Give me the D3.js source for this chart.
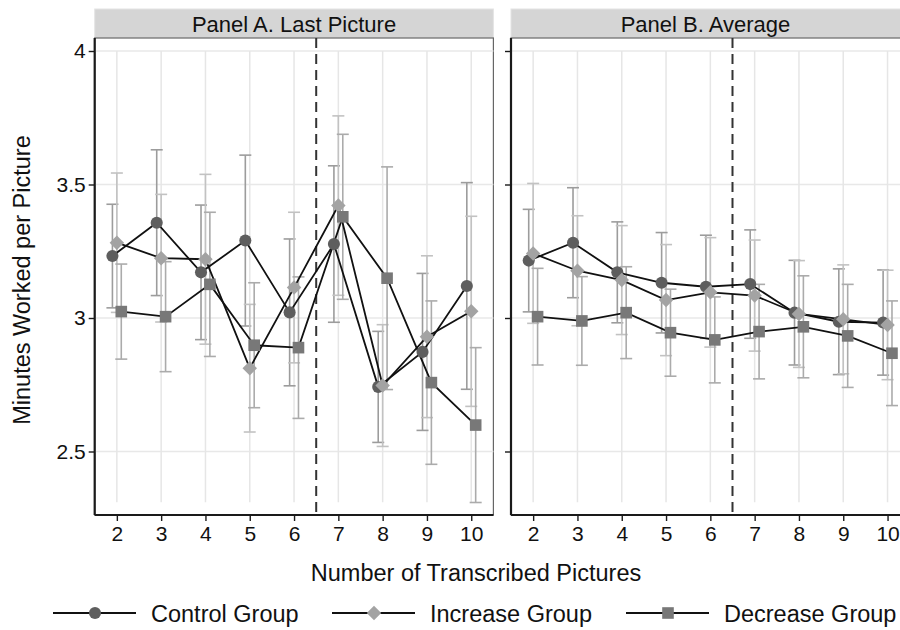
<!DOCTYPE html>
<html>
<head>
<meta charset="utf-8">
<script src="https://cdn.jsdelivr.net/npm/d3@7/dist/d3.min.js"></script>
<style>
  html, body { margin: 0; padding: 0; background: #fff; }
  svg { display: block; font-family: "Liberation Sans", Arial, Helvetica, sans-serif; }
</style>
</head>
<body>
<svg id="chart" width="900" height="630"></svg>
<script>
// Number of transcribed pictures (x categories)
const pictures = [2, 3, 4, 5, 6, 7, 8, 9, 10];
const yTicks = [2.5, 3, 3.5, 4];
const panelTitles = ["Panel A. Last Picture", "Panel B. Average"];
const groupNames = ["Control Group", "Increase Group", "Decrease Group"];

// Panel A: minutes worked on the last picture (mean and 95% CI half-width)
const lastControl     = [3.232, 3.357, 3.171, 3.290, 3.021, 3.277, 2.742, 2.873, 3.120];
const lastControlCI   = [0.194, 0.273, 0.252, 0.320, 0.275, 0.293, 0.208, 0.294, 0.387];
const lastIncrease    = [3.282, 3.224, 3.220, 2.812, 3.114, 3.421, 2.747, 2.930, 3.025];
const lastIncreaseCI  = [0.261, 0.239, 0.318, 0.239, 0.282, 0.336, 0.228, 0.303, 0.356];
const lastDecrease    = [3.024, 3.005, 3.126, 2.898, 2.889, 3.379, 3.149, 2.758, 2.599];
const lastDecreaseCI  = [0.178, 0.206, 0.270, 0.234, 0.265, 0.309, 0.417, 0.306, 0.290];

// Panel B: average minutes worked per picture
const avgControl      = [3.215, 3.282, 3.171, 3.132, 3.117, 3.127, 3.020, 2.986, 2.983];
const avgControlCI    = [0.192, 0.206, 0.189, 0.188, 0.193, 0.203, 0.196, 0.198, 0.197];
const avgIncrease     = [3.242, 3.177, 3.142, 3.067, 3.096, 3.084, 3.015, 2.995, 2.974];
const avgIncreaseCI   = [0.262, 0.206, 0.204, 0.208, 0.205, 0.208, 0.200, 0.204, 0.205];
const avgDecrease     = [3.005, 2.989, 3.020, 2.945, 2.918, 2.949, 2.967, 2.933, 2.868];
const avgDecreaseCI   = [0.181, 0.166, 0.172, 0.163, 0.161, 0.177, 0.191, 0.193, 0.196];

const cutoff = 6.5;

// Styling per group: marker shape, marker fill, CI colour, x offset
const groupStyle = [
  { symbol: d3.symbolCircle, size: 115, rotate: 0,  fill: "#5e5e5e", ci: "#9c9c9c", dx: -0.1 },
  { symbol: d3.symbolSquare, size: 105, rotate: 45, fill: "#a3a3a3", ci: "#c2c2c2", dx: 0 },
  { symbol: d3.symbolSquare, size: 135, rotate: 0,  fill: "#787878", ci: "#ababab", dx: 0.1 }
];

const panels = [
  { title: panelTitles[0], left: 94.7,  right: 493.4,
    series: [[lastControl, lastControlCI], [lastIncrease, lastIncreaseCI], [lastDecrease, lastDecreaseCI]] },
  { title: panelTitles[1], left: 511,   right: 909.7,
    series: [[avgControl, avgControlCI], [avgIncrease, avgIncreaseCI], [avgDecrease, avgDecreaseCI]] }
];

const svg = d3.select("#chart");
const plotTop = 38, plotBottom = 515;
const stripTop = 9;
const tickFont = 21;

const y = d3.scaleLinear().domain([2.5, 4]).range([451.5, 51]);

panels.forEach((p, pi) => {
  const x = d3.scaleLinear().domain([1.5, 10.5]).range([p.left, p.right]);
  const g = svg.append("g");

  // strip header
  g.append("rect")
    .attr("x", p.left).attr("y", stripTop)
    .attr("width", p.right - p.left).attr("height", plotTop - stripTop)
    .attr("fill", "#d5d5d5").attr("stroke", "#e4e4e4").attr("stroke-width", 1);
  g.append("text")
    .attr("x", (p.left + Math.min(p.right, 900)) / 2).attr("y", 31.5)
    .attr("text-anchor", "middle").attr("font-size", 22).attr("fill", "#111")
    .text(p.title);

  // plot frame
  g.append("rect")
    .attr("x", p.left).attr("y", plotTop)
    .attr("width", p.right - p.left).attr("height", plotBottom - plotTop)
    .attr("fill", "#fff").attr("stroke", "#666").attr("stroke-width", 1.2);

  // horizontal grid
  g.selectAll(".hgrid").data(yTicks).enter().append("line")
    .attr("x1", p.left).attr("x2", p.right)
    .attr("y1", d => y(d)).attr("y2", d => y(d))
    .attr("stroke", "#e8e8e8").attr("stroke-width", 1.5);

  // vertical grid
  g.selectAll(".vgrid").data(pictures).enter().append("line")
    .attr("x1", d => x(d)).attr("x2", d => x(d))
    .attr("y1", y(4)).attr("y2", y(2.31))
    .attr("stroke", "#e6e6e6").attr("stroke-width", 1.5);

  // axes
  const yAxis = d3.axisLeft(y).tickValues(yTicks).tickSize(6).tickPadding(3)
    .tickFormat(d3.format("~g"));
  const xAxis = d3.axisBottom(x).tickValues(pictures).tickSize(6).tickPadding(3);

  const ya = g.append("g").attr("transform", `translate(${p.left},0)`).call(yAxis);
  ya.select(".domain").attr("d", `M0,${plotTop}V${plotBottom}`);
  const xa = g.append("g").attr("transform", `translate(0,${plotBottom})`).call(xAxis);
  xa.select(".domain").attr("d", `M${p.left},0H${p.right}`);

  [ya, xa].forEach(a => {
    a.select(".domain").attr("stroke", "#1a1a1a").attr("stroke-width", 2.2);
    a.selectAll(".tick line").attr("stroke", "#1a1a1a").attr("stroke-width", 1.4);
    a.selectAll(".tick text").attr("font-size", tickFont).attr("fill", "#111")
      .attr("font-family", "'Liberation Sans', Arial, sans-serif");
  });
  if (pi === 1) ya.selectAll(".tick text").remove();
  xa.selectAll(".tick text").attr("dy", "0.8em");

  // cutoff line between pictures 6 and 7
  g.append("line")
    .attr("x1", x(cutoff)).attr("x2", x(cutoff))
    .attr("y1", plotTop).attr("y2", plotBottom)
    .attr("stroke", "#333").attr("stroke-width", 2)
    .attr("stroke-dasharray", "10,6");

  // confidence intervals
  p.series.forEach(([vals, ci], si) => {
    const st = groupStyle[si];
    const bars = g.append("g");
    vals.forEach((v, i) => {
      const cx = x(pictures[i] + st.dx);
      const lo = y(v - ci[i]), hi = y(v + ci[i]);
      bars.append("line").attr("x1", cx).attr("x2", cx).attr("y1", lo).attr("y2", hi)
        .attr("stroke", st.ci).attr("stroke-width", 1.6);
      [lo, hi].forEach(yy => bars.append("line")
        .attr("x1", cx - 6).attr("x2", cx + 6).attr("y1", yy).attr("y2", yy)
        .attr("stroke", st.ci).attr("stroke-width", 1.6));
    });
  });

  // connecting lines
  const line = d3.line();
  p.series.forEach(([vals], si) => {
    const st = groupStyle[si];
    g.append("path")
      .attr("d", line(vals.map((v, i) => [x(pictures[i] + st.dx), y(v)])))
      .attr("fill", "none").attr("stroke", "#111").attr("stroke-width", 1.8);
  });

  // markers
  p.series.forEach(([vals], si) => {
    const st = groupStyle[si];
    const sym = d3.symbol().type(st.symbol).size(st.size);
    g.selectAll(null).data(vals).enter().append("path")
      .attr("d", sym)
      .attr("transform", (v, i) => `translate(${x(pictures[i] + st.dx)},${y(v)}) rotate(${st.rotate})`)
      .attr("fill", st.fill);
  });
});

// axis titles
svg.append("text")
  .attr("transform", "translate(30,280) rotate(-90)")
  .attr("text-anchor", "middle").attr("font-size", 23.5).attr("fill", "#111")
  .text("Minutes Worked per Picture");
svg.append("text")
  .attr("x", 476).attr("y", 581)
  .attr("text-anchor", "middle").attr("font-size", 23.5).attr("fill", "#111")
  .text("Number of Transcribed Pictures");

// legend
const legendX = [53, 332, 626];
const legendY = 613;
groupNames.forEach((name, i) => {
  const st = groupStyle[i];
  const lg = svg.append("g").attr("transform", `translate(${legendX[i]},${legendY})`);
  lg.append("line").attr("x1", 0).attr("x2", 83).attr("y1", 0).attr("y2", 0)
    .attr("stroke", "#111").attr("stroke-width", 2);
  lg.append("path").attr("d", d3.symbol().type(st.symbol).size(st.size)())
    .attr("transform", `translate(42,0) rotate(${st.rotate})`).attr("fill", st.fill);
  lg.append("text").attr("x", 98).attr("y", 8.5)
    .attr("font-size", 23.5).attr("fill", "#111").text(name);
});
</script>
</body>
</html>
